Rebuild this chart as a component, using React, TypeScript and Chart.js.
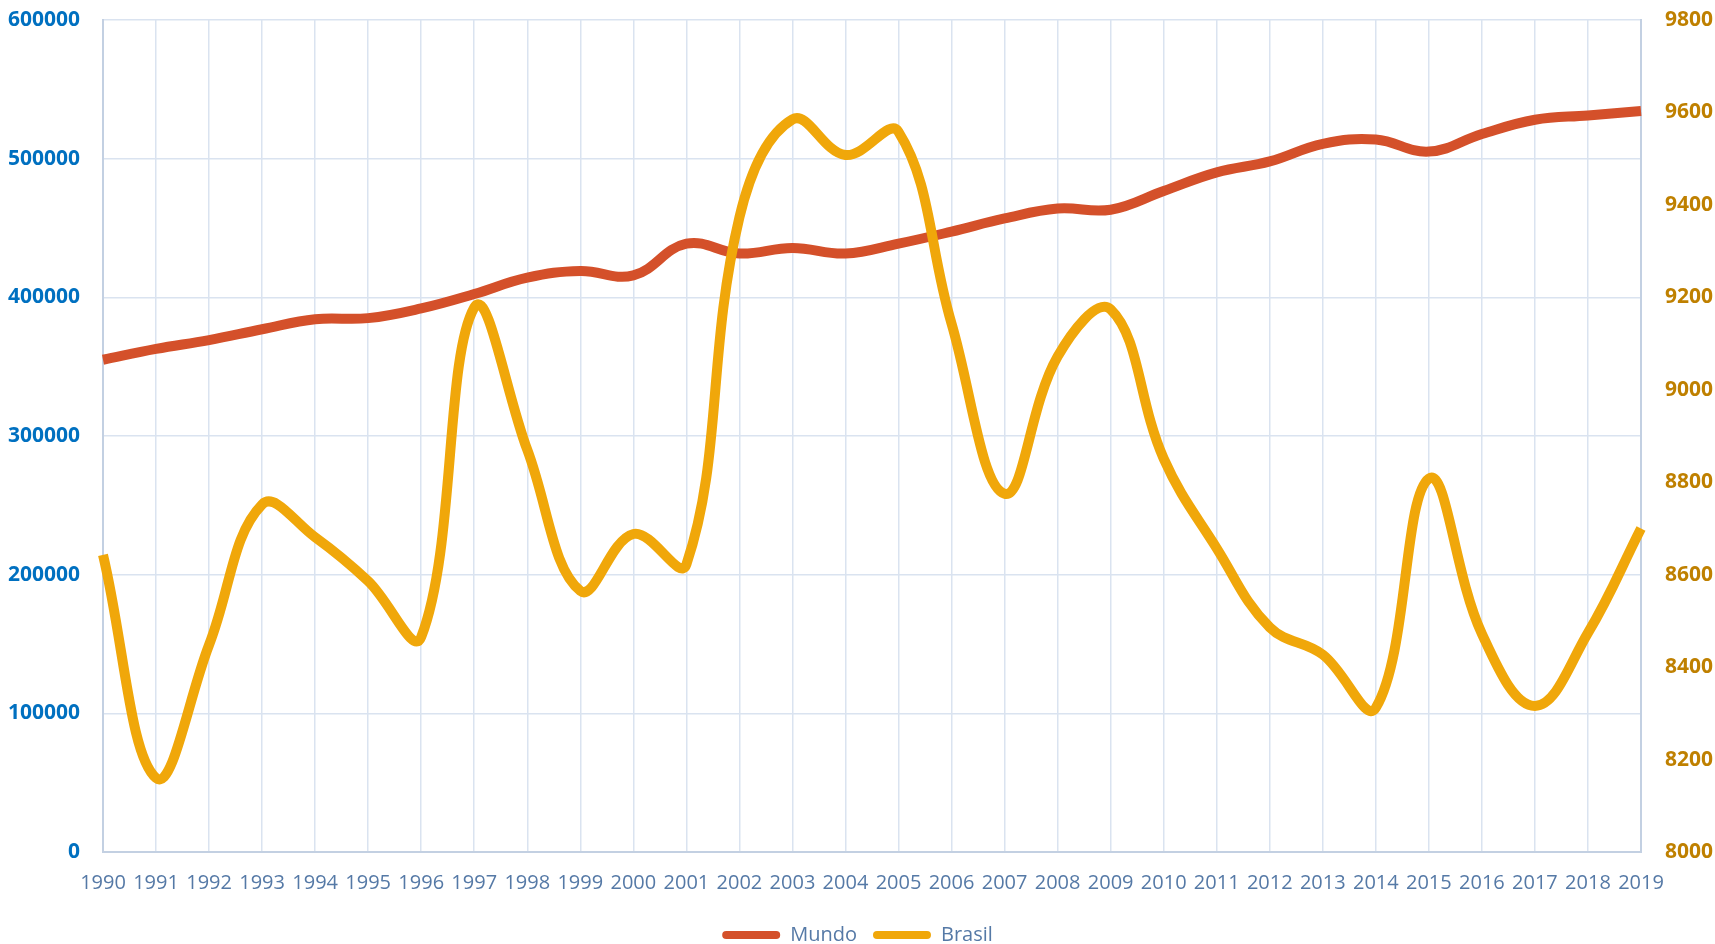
import React, { useEffect, useRef } from "react";
import { Chart, registerables } from "chart.js";

Chart.register(...registerables);

const years = [
  "1990", "1991", "1992", "1993", "1994", "1995", "1996", "1997", "1998", "1999",
  "2000", "2001", "2002", "2003", "2004", "2005", "2006", "2007", "2008", "2009",
  "2010", "2011", "2012", "2013", "2014", "2015", "2016", "2017", "2018", "2019",
];

const mundo = [
  355000, 362800, 369200, 377000, 384200, 385000, 392000, 402400, 414200, 419000,
  415800, 438700, 431600, 435600, 431600, 438700, 447400, 456900, 464000, 463200,
  476700, 490100, 498000, 510700, 513800, 505100, 517800, 528100, 531200, 534400,
];

const brasil = [
  8643, 8160, 8448, 8752, 8681, 8586, 8465, 9178, 8870, 8565,
  8688, 8622, 9373, 9585, 9508, 9558, 9143, 8775, 9072, 9174,
  8851, 8657, 8486, 8427, 8312, 8808, 8472, 8316, 8474, 8700,
];

const leftTicks = [0, 100000, 200000, 300000, 400000, 500000, 600000];
const rightTicks = [8000, 8200, 8400, 8600, 8800, 9000, 9200, 9400, 9600, 9800];

const MUNDO_COLOR = "#D4502A";
const BRASIL_COLOR = "#F0A70A";
const GRID = "#DAE3F0";
const FONT = "'Open Sans', 'Noto Sans', sans-serif";

export default function App() {
  const ref = useRef<HTMLCanvasElement | null>(null);

  useEffect(() => {
    if (!ref.current) return;
    const chart = new Chart(ref.current, {
      type: "line",
      data: {
        labels: years,
        datasets: [
          {
            label: "Mundo",
            data: mundo,
            borderColor: MUNDO_COLOR,
            backgroundColor: MUNDO_COLOR,
            borderWidth: 10,
            pointRadius: 0,
            tension: 0.4,
            yAxisID: "y",
            order: 1,
          },
          {
            label: "Brasil",
            data: brasil,
            borderColor: BRASIL_COLOR,
            backgroundColor: BRASIL_COLOR,
            borderWidth: 10,
            pointRadius: 0,
            tension: 0.4,
            yAxisID: "y2",
            order: 0,
          },
        ],
      },
      options: {
        animation: false,
        responsive: true,
        maintainAspectRatio: false,
        layout: { padding: { left: 0, right: 0, top: 20, bottom: -11 } },
        plugins: {
          tooltip: { enabled: false },
          legend: {
            position: "bottom",
            labels: {
              sort: (a: any, b: any) => a.datasetIndex - b.datasetIndex,
              boxWidth: 58,
              boxHeight: 8,
              useBorderRadius: true,
              borderRadius: 4,
              color: "#5579A6",
              padding: 16,
              font: { family: FONT, size: 20 },
              generateLabels: (chart: any) =>
                chart.data.datasets.map((ds: any, i: number) => ({
                  text: ds.label,
                  fillStyle: ds.borderColor,
                  strokeStyle: ds.borderColor,
                  lineWidth: 0,
                  borderRadius: 4,
                  datasetIndex: i,
                  hidden: false,
                  fontColor: "#5579A6",
                })),
            },
          },
        },
        scales: {
          x: {
            grid: { color: GRID, lineWidth: 1.5, drawTicks: false },
            border: { color: "#C3D0E2", width: 2 },
            ticks: {
              color: "#5579A6",
              font: { family: FONT, size: 20 },
              padding: 19,
              maxRotation: 0,
              autoSkip: false,
            },
            afterFit: (s: any) => {
              s.height = 57;
              s.paddingLeft = 0;
              s.paddingRight = 0;
            },
          },
          y: {
            position: "left",
            min: 0,
            max: 600000,
            afterBuildTicks: (s: any) => {
              s.ticks = leftTicks.map((v) => ({ value: v }));
            },
            grid: { color: GRID, lineWidth: 1.5, drawTicks: false },
            border: { color: "#C3D0E2", width: 2 },
            ticks: {
              color: "#0070C0",
              font: { family: FONT, size: 21, weight: "bold" },
              padding: 23,
              callback: (v: any) => String(v),
            },
            afterFit: (s: any) => {
              s.width = 103;
              s.paddingTop = 0;
              s.paddingBottom = 0;
            },
          },
          y2: {
            position: "right",
            min: 8000,
            max: 9800,
            afterBuildTicks: (s: any) => {
              s.ticks = rightTicks.map((v) => ({ value: v }));
            },
            grid: { drawOnChartArea: false, drawTicks: false },
            border: { color: "#C3D0E2", width: 2 },
            ticks: {
              color: "#BF8000",
              font: { family: FONT, size: 21, weight: "bold" },
              padding: 24,
              callback: (v: any) => String(v),
            },
            afterFit: (s: any) => {
              s.width = 74;
              s.paddingTop = 0;
              s.paddingBottom = 0;
            },
          },
        },
      },
    });
    return () => chart.destroy();
  }, []);

  return (
    <div style={{ position: "fixed", left: 0, top: 0, width: 1715, height: 944, background: "#fff" }}>
      <canvas ref={ref} />
    </div>
  );
}
